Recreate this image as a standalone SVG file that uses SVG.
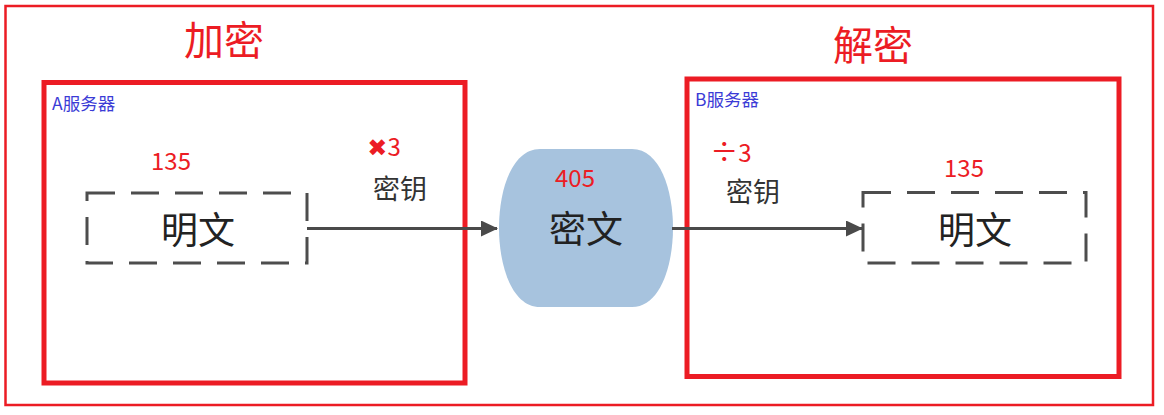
<svg xmlns="http://www.w3.org/2000/svg" width="1164" height="415" viewBox="0 0 1164 415">
<style>
  text { font-family: "Noto Sans CJK SC", "Noto Sans", sans-serif; }
  .frame { fill: none; stroke: #ec1c24; }
  .dash { fill: none; stroke: #4d4d4d; stroke-width: 3; stroke-dasharray: 28 16; }
  .title { fill: #ec1c24; font-size: 40px; text-anchor: middle; }
  .num { fill: #ec1c24; font-size: 24px; text-anchor: middle; }
  .server { fill: #3b3bd6; font-size: 17.5px; }
  .big { fill: #222; font-size: 37px; text-anchor: middle; }
  .key { fill: #333; font-size: 27px; text-anchor: middle; }
  .conn { stroke: #4a4a4a; stroke-width: 3; fill: none; }
</style>
<defs>
  <marker id="arr" markerWidth="18" markerHeight="18" refX="16" refY="8" orient="auto" markerUnits="userSpaceOnUse">
    <path d="M0,0 L17,8 L0,16 Z" fill="#4a4a4a"/>
  </marker>
</defs>
<rect width="1164" height="415" fill="#ffffff"/>
<g id="outer">
  <rect class="frame" x="5.5" y="6" width="1147.5" height="399" stroke-width="2.5"/>
</g>
<g id="title-encrypt"><text class="title" x="224" y="55">加密</text></g>
<g id="title-decrypt"><text class="title" x="873" y="60">解密</text></g>
<g id="server-a">
  <rect class="frame" x="44" y="82.5" width="421" height="300.5" stroke-width="5"/>
  <text class="server" x="52" y="110">A服务器</text>
</g>
<g id="server-b">
  <rect class="frame" x="687" y="79" width="432" height="297.5" stroke-width="5"/>
  <text class="server" x="695" y="106">B服务器</text>
</g>
<g id="plain-a">
  <rect class="dash" x="87" y="193" width="220" height="70"/>
  <text class="big" x="198" y="244">明文</text>
  <text class="num" x="171" y="170">135</text>
</g>
<g id="cipher">
  <path d="M540,149 H632 C660,149 673,190 673,228 C673,266 660,307 632,307 H540 C512,307 499,266 499,228 C499,190 512,149 540,149 Z" fill="#a7c3de"/>
  <text class="big" x="586" y="243">密文</text>
  <text class="num" x="575" y="187">405</text>
</g>
<g id="plain-b">
  <rect class="dash" x="863" y="192.5" width="223" height="70.5"/>
  <text class="big" x="975" y="244">明文</text>
  <text class="num" x="964" y="177">135</text>
</g>
<g id="connectors">
  <line class="conn" x1="307" y1="228.5" x2="497" y2="228.5" marker-end="url(#arr)"/>
  <line class="conn" x1="672" y1="228.5" x2="862" y2="228.5" marker-end="url(#arr)"/>
  <text class="num" x="384" y="156" style="text-anchor:middle"><tspan font-family="DejaVu Sans" font-size="24">✖</tspan>3</text>
  <text class="key" x="400" y="199">密钥</text>
  <text class="num" x="731" y="162"><tspan font-size="28">÷</tspan>3</text>
  <text class="key" x="753" y="202">密钥</text>
</g>
</svg>
